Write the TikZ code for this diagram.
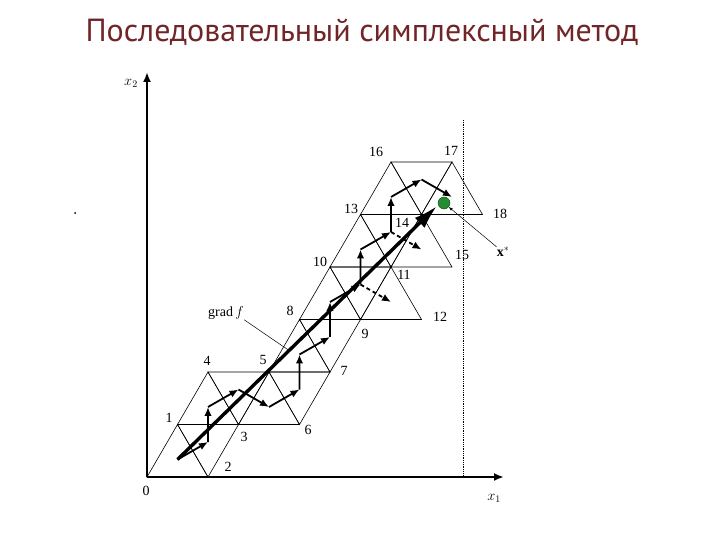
\documentclass[tikz,border=0pt]{standalone}
\usepackage{fontspec}
\setmainfont{Liberation Serif}
\newfontfamily\titlefont{PT Sans}
\usepackage{tikz}
\usepackage{xcolor}
\usetikzlibrary{arrows.meta, positioning, calc}
\definecolor{titlered}{RGB}{112,38,40}
\definecolor{optgreen}{RGB}{38,140,50}

\begin{document}
\begin{tikzpicture}[x=1pt,y=-1pt,
    grid/.style={line width=0.6pt},
    axis/.style={line width=2.6pt,-{Latex[length=10pt,width=8pt]}},
    move/.style={line width=1.8pt,-{Latex[length=9pt,width=7.5pt]}},
    trial/.style={move,dash pattern=on 4pt off 3pt},
    gradarrow/.style={line width=3.4pt,-{Latex[length=24pt,width=14pt]}},
    leader/.style={line width=0.5pt},
    lbl/.style={font=\fontsize{14}{16}\selectfont,inner sep=0pt}]
\useasboundingbox (0,0) rectangle (720,540);

\node[font=\titlefont\fontsize{32}{38}\selectfont,text=titlered] (title) at (362,32) {Последовательный симплексный метод};

\coordinate (O) at (147,477);
\foreach \n/\i/\j in {0/0/0,1/0/1,2/1/0,3/1/1,4/0/2,5/1/2,6/2/1,7/2/2,8/1/3,9/2/3,
                      10/1/4,11/2/4,12/3/3,13/1/5,14/2/5,15/3/4,16/1/6,17/2/6,18/3/5}
    \coordinate (P\n) at (147+61*\i+30.5*\j,477-52.5*\j);

\foreach \k/\a/\b/\c in {0/0/1/2,1/1/2/3,2/1/3/4,3/3/4/5,4/3/5/6,5/5/6/7,6/5/7/8,7/7/8/9,8/8/9/10,
                         9/9/10/11,10/9/11/12,11/10/11/13,12/11/13/14,13/11/14/15,14/13/14/16,15/14/16/17,16/14/17/18} {
    \draw[grid] (P\a) -- (P\b) -- (P\c) -- cycle;
    \coordinate (S\k) at ($0.3333*(P\a)+0.3333*(P\b)+0.3334*(P\c)$);
}

\coordinate (X2) at (147,72);
\coordinate (X1) at (504,477);
\draw[axis] (O) -- (X2);
\draw[axis] (O) -- (X1);
\coordinate (D1) at (463,120);
\coordinate (D2) at (463,477);
\draw[densely dotted,line width=0.8pt] (D1) -- (D2);

\foreach \p/\q in {0/1,1/2,2/3,3/4,4/5,5/6,6/7,7/8,8/9,9/11,11/12,12/14,14/15,15/16}
    \draw[move] (S\p) -- (S\q);
\foreach \p/\q in {9/10,12/13}
    \draw[trial] (S\p) -- (S\q);

\coordinate (G) at (437,206);
\draw[gradarrow] (S0) -- (G);

\node[circle,fill=optgreen,draw=green!30!black,minimum size=12pt,inner sep=0pt] (xopt) at (444,203) {};

\foreach \n/\x/\y in {0/146/491,1/169/418,2/228/467,3/244/437,4/207/361,5/263/360,6/308/430,
                      7/344/371,8/290/311,9/365/334,10/320/262,11/404/275,12/440/317,13/351/209,
                      14/402/223,15/462/255,16/376/152,17/451/151,18/500/214}
    \node[lbl] (L\n) at (\x,\y) {\n};

\node[lbl] (xstar) at (503,252) {$\mathbf{x}^{*}$};
\draw[leader,-{Latex[length=4pt,width=3pt]}] (xstar.north west) -- (xopt);

\node[lbl] (gradf) at (226,313) {grad\,$f$};
\draw[leader] (gradf.south east) -- ($(S0)!0.43!(G)$);

\node[lbl] (x2) at (131,83) {$x_2$};
\node[lbl] (x1) at (494,498) {$x_1$};

\fill (75,213) circle (1);
\end{tikzpicture}
\end{document}
